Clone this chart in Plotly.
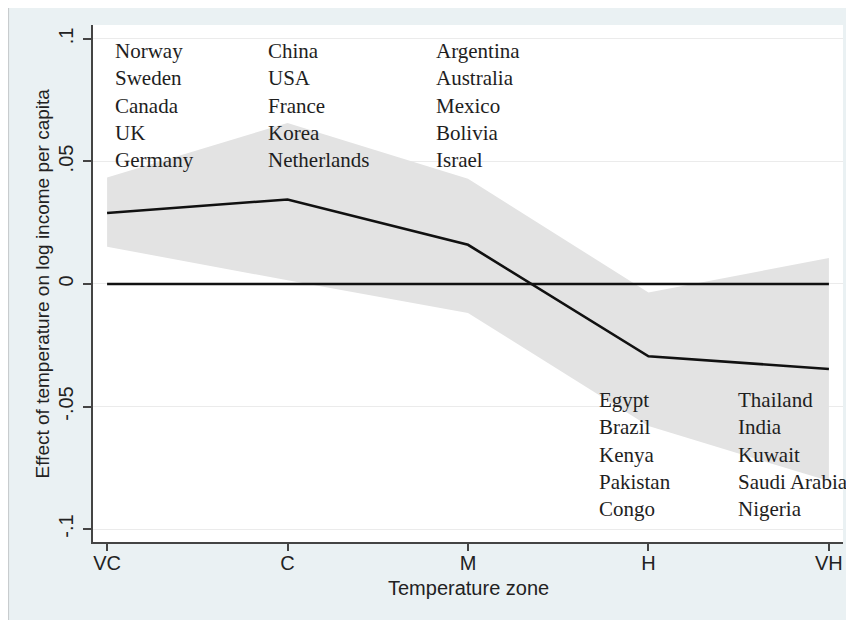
import plotly.graph_objects as go

zones = ["VC", "C", "M", "H", "VH"]
effect = [0.029, 0.0345, 0.016, -0.0295, -0.0347]
ci_upper = [0.0435, 0.0657, 0.043, -0.0035, 0.0106]
ci_lower = [0.0152, 0.0015, -0.0118, -0.058, -0.0804]
zero_ref = [0, 0, 0, 0, 0]

countries_top = {
    "VC": ["Norway", "Sweden", "Canada", "UK", "Germany"],
    "C": ["China", "USA", "France", "Korea", "Netherlands"],
    "M": ["Argentina", "Australia", "Mexico", "Bolivia", "Israel"],
}
countries_bottom = {
    "H": ["Egypt", "Brazil", "Kenya", "Pakistan", "Congo"],
    "VH": ["Thailand", "India", "Kuwait", "Saudi Arabia", "Nigeria"],
}
label_shift = {"VC": 6, "C": -22, "M": -34, "H": -51, "VH": -93}

y_ticks = [-0.1, -0.05, 0, 0.05, 0.1]
y_ticktext = ["-.1", "-.05", "0", ".05", ".1"]

xi = list(range(len(zones)))

fig = go.Figure()
fig.add_trace(go.Scatter(x=xi, y=ci_lower, mode="lines", line=dict(width=0),
                         hoverinfo="skip", showlegend=False))
fig.add_trace(go.Scatter(x=xi, y=ci_upper, mode="lines", line=dict(width=0),
                         fill="tonexty", fillcolor="#E3E3E3",
                         hoverinfo="skip", showlegend=False))
fig.add_trace(go.Scatter(x=xi, y=zero_ref, mode="lines",
                         line=dict(color="#111111", width=2.4), showlegend=False))
fig.add_trace(go.Scatter(x=xi, y=effect, mode="lines",
                         line=dict(color="#111111", width=2.6), showlegend=False))

serif = "Liberation Serif, Times New Roman, serif"
for z, names in countries_top.items():
    fig.add_annotation(x=zones.index(z), y=0.1, xref="x", yref="y",
                       text="<br>".join(names), showarrow=False,
                       xanchor="left", yanchor="top", align="left",
                       xshift=label_shift[z], yshift=2,
                       font=dict(family=serif, size=21, color="#1E1E1E"))
for z, names in countries_bottom.items():
    fig.add_annotation(x=zones.index(z), y=-0.1, xref="x", yref="y",
                       text="<br>".join(names), showarrow=False,
                       xanchor="left", yanchor="bottom", align="left",
                       xshift=label_shift[z], yshift=6,
                       font=dict(family=serif, size=21, color="#1E1E1E"))

sans = "Liberation Sans, Arial, sans-serif"
fig.add_annotation(x=0.5, y=-0.089, xref="paper", yref="paper",
                   text="Temperature zone", showarrow=False,
                   xanchor="center", yanchor="middle",
                   font=dict(family=sans, size=20, color="#222222"))
fig.add_annotation(x=-0.068, y=0.5, xref="paper", yref="paper",
                   text="Effect of temperature on log income per capita",
                   showarrow=False, textangle=-90,
                   xanchor="center", yanchor="middle",
                   font=dict(family=sans, size=19, color="#222222"))

# thin frame line at the left edge of the graph region
fig.add_shape(type="line", xref="paper", yref="paper",
              x0=-0.1127, x1=-0.1127, y0=-0.3, y1=1.1,
              line=dict(color="#C8CCCE", width=1.2), layer="below")

fig.update_layout(
    width=854, height=620,
    margin=dict(l=85, r=19, t=17, b=86),
    paper_bgcolor="#EAF1F3",
    plot_bgcolor="white",
    showlegend=False,
    font=dict(family=sans, size=20, color="#222222"),
)
fig.update_xaxes(
    range=[-0.078, 4.078], tickvals=xi, ticktext=zones,
    showgrid=False, zeroline=False,
    showline=True, linecolor="#444444", linewidth=1.5,
    ticks="outside", ticklen=7, tickcolor="#444444", tickwidth=1.5,
    ticklabelstandoff=-5,
    tickfont=dict(family=sans, size=20, color="#222222"),
    automargin=False,
)
fig.update_yaxes(
    range=[-0.1053, 0.1057], tickvals=y_ticks, ticktext=y_ticktext,
    showgrid=True, gridcolor="#EBEBEB", gridwidth=1.2, zeroline=False,
    showline=True, linecolor="#444444", linewidth=1.5,
    ticks="outside", ticklen=8, tickcolor="#444444", tickwidth=1.5,
    tickangle=-90, ticklabelstandoff=2,
    tickfont=dict(family=sans, size=20, color="#222222"),
    automargin=False,
)

fig.write_html("out.html")
